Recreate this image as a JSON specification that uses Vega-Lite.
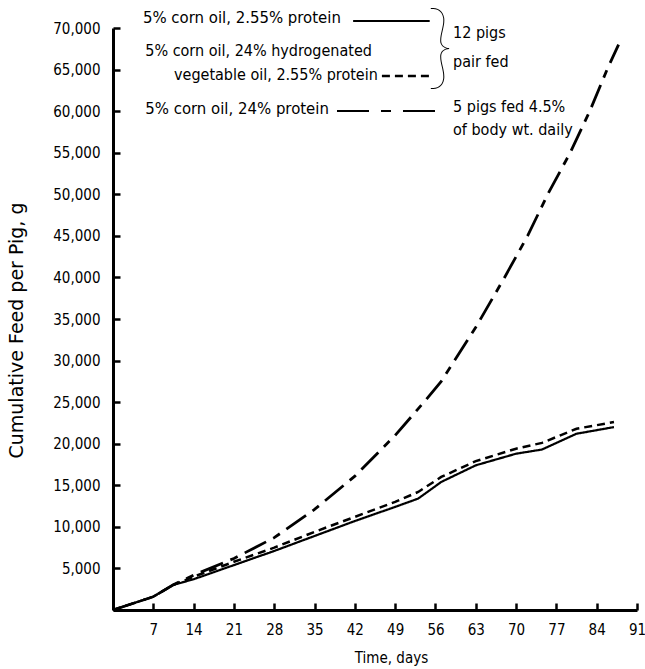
{
  "$schema": "https://vega.github.io/schema/vega-lite/v6.json",
  "width": 524,
  "height": 582,
  "autosize": {"type": "none"},
  "padding": {"left": 113, "top": 28, "right": 8, "bottom": 59},
  "background": "white",
  "config": {
    "view": {"stroke": null},
    "font": "DejaVu Sans Condensed",
    "text": {"font": "DejaVu Sans Condensed", "fontSize": 16, "color": "black"},
    "axis": {
      "labelFont": "DejaVu Sans Condensed",
      "titleFont": "DejaVu Sans Condensed",
      "labelColor": "black",
      "titleColor": "black",
      "titleFontWeight": "normal",
      "domainColor": "black",
      "tickColor": "black",
      "grid": false,
      "domainWidth": 3,
      "tickWidth": 2.5,
      "tickSize": -7,
      "labelFlush": false,
      "labelOverlap": false,
      "labelFontSize": 15,
      "titleFontSize": 15
    }
  },
  "datasets": {
    "curves": [
      {"series": "5% corn oil, 2.55% protein", "day": 0, "feed": 0},
      {"series": "5% corn oil, 2.55% protein", "day": 7, "feed": 1600},
      {"series": "5% corn oil, 2.55% protein", "day": 10.4, "feed": 3000},
      {"series": "5% corn oil, 2.55% protein", "day": 14, "feed": 3700},
      {"series": "5% corn oil, 2.55% protein", "day": 21, "feed": 5400},
      {"series": "5% corn oil, 2.55% protein", "day": 28, "feed": 7100},
      {"series": "5% corn oil, 2.55% protein", "day": 35, "feed": 8900},
      {"series": "5% corn oil, 2.55% protein", "day": 42, "feed": 10700},
      {"series": "5% corn oil, 2.55% protein", "day": 49, "feed": 12400},
      {"series": "5% corn oil, 2.55% protein", "day": 53, "feed": 13400},
      {"series": "5% corn oil, 2.55% protein", "day": 57, "feed": 15400},
      {"series": "5% corn oil, 2.55% protein", "day": 63, "feed": 17400},
      {"series": "5% corn oil, 2.55% protein", "day": 70, "feed": 18800},
      {"series": "5% corn oil, 2.55% protein", "day": 74.5, "feed": 19300},
      {"series": "5% corn oil, 2.55% protein", "day": 80.5, "feed": 21200},
      {"series": "5% corn oil, 2.55% protein", "day": 87, "feed": 22000},
      {"series": "5% corn oil, 24% hydrogenated vegetable oil, 2.55% protein", "day": 0, "feed": 0},
      {"series": "5% corn oil, 24% hydrogenated vegetable oil, 2.55% protein", "day": 7, "feed": 1600},
      {"series": "5% corn oil, 24% hydrogenated vegetable oil, 2.55% protein", "day": 10.4, "feed": 3000},
      {"series": "5% corn oil, 24% hydrogenated vegetable oil, 2.55% protein", "day": 14, "feed": 4000},
      {"series": "5% corn oil, 24% hydrogenated vegetable oil, 2.55% protein", "day": 21, "feed": 5800},
      {"series": "5% corn oil, 24% hydrogenated vegetable oil, 2.55% protein", "day": 28, "feed": 7500},
      {"series": "5% corn oil, 24% hydrogenated vegetable oil, 2.55% protein", "day": 35, "feed": 9400},
      {"series": "5% corn oil, 24% hydrogenated vegetable oil, 2.55% protein", "day": 42, "feed": 11200},
      {"series": "5% corn oil, 24% hydrogenated vegetable oil, 2.55% protein", "day": 49, "feed": 13000},
      {"series": "5% corn oil, 24% hydrogenated vegetable oil, 2.55% protein", "day": 53, "feed": 14200},
      {"series": "5% corn oil, 24% hydrogenated vegetable oil, 2.55% protein", "day": 57, "feed": 16000},
      {"series": "5% corn oil, 24% hydrogenated vegetable oil, 2.55% protein", "day": 63, "feed": 17900},
      {"series": "5% corn oil, 24% hydrogenated vegetable oil, 2.55% protein", "day": 70, "feed": 19400},
      {"series": "5% corn oil, 24% hydrogenated vegetable oil, 2.55% protein", "day": 74.5, "feed": 20100},
      {"series": "5% corn oil, 24% hydrogenated vegetable oil, 2.55% protein", "day": 80.5, "feed": 21800},
      {"series": "5% corn oil, 24% hydrogenated vegetable oil, 2.55% protein", "day": 87, "feed": 22600},
      {"series": "5% corn oil, 24% protein", "day": 0, "feed": 0},
      {"series": "5% corn oil, 24% protein", "day": 7, "feed": 1600},
      {"series": "5% corn oil, 24% protein", "day": 10.4, "feed": 3000},
      {"series": "5% corn oil, 24% protein", "day": 14, "feed": 4200},
      {"series": "5% corn oil, 24% protein", "day": 21, "feed": 6200},
      {"series": "5% corn oil, 24% protein", "day": 28, "feed": 8700},
      {"series": "5% corn oil, 24% protein", "day": 35, "feed": 12100},
      {"series": "5% corn oil, 24% protein", "day": 42, "feed": 16100},
      {"series": "5% corn oil, 24% protein", "day": 49, "feed": 21000},
      {"series": "5% corn oil, 24% protein", "day": 54, "feed": 25000},
      {"series": "5% corn oil, 24% protein", "day": 57, "feed": 27500},
      {"series": "5% corn oil, 24% protein", "day": 63, "feed": 34000},
      {"series": "5% corn oil, 24% protein", "day": 68, "feed": 40000},
      {"series": "5% corn oil, 24% protein", "day": 72, "feed": 45000},
      {"series": "5% corn oil, 24% protein", "day": 75.5, "feed": 50000},
      {"series": "5% corn oil, 24% protein", "day": 79.4, "feed": 55000},
      {"series": "5% corn oil, 24% protein", "day": 82.8, "feed": 60000},
      {"series": "5% corn oil, 24% protein", "day": 85.8, "feed": 65000},
      {"series": "5% corn oil, 24% protein", "day": 87.8, "feed": 68000}
    ]
  },
  "layer": [
    {
      "data": {"name": "curves"},
      "mark": {"type": "line", "color": "black", "strokeCap": "butt", "clip": false},
      "encoding": {
        "x": {
          "field": "day", "type": "quantitative",
          "scale": {"domain": [0, 91], "nice": false, "zero": true},
          "axis": {
            "values": [7, 14, 21, 28, 35, 42, 49, 56, 63, 70, 77, 84, 91],
            "title": "Time, days",
            "labelPadding": 19,
            "titlePadding": 13,
            "titleX": 278
          }
        },
        "y": {
          "field": "feed", "type": "quantitative",
          "scale": {"domain": [0, 70000], "nice": false},
          "axis": {
            "values": [5000, 10000, 15000, 20000, 25000, 30000, 35000, 40000, 45000, 50000, 55000, 60000, 65000, 70000],
            "format": ",.0f",
            "title": "Cumulative Feed per Pig, g",
            "labelPadding": 20,
            "titlePadding": 26,
            "titleY": 302,
            "titleFont": "DejaVu Sans",
            "titleFontSize": 19
          }
        },
        "strokeDash": {
          "field": "series", "type": "nominal",
          "scale": {
            "domain": ["5% corn oil, 2.55% protein", "5% corn oil, 24% hydrogenated vegetable oil, 2.55% protein", "5% corn oil, 24% protein"],
            "range": [[1, 0], [8, 5], [24, 8, 8, 8]]
          },
          "legend": null
        },
        "strokeWidth": {
          "field": "series", "type": "nominal",
          "scale": {
            "domain": ["5% corn oil, 2.55% protein", "5% corn oil, 24% hydrogenated vegetable oil, 2.55% protein", "5% corn oil, 24% protein"],
            "range": [2.2, 2.8, 2.4]
          },
          "legend": null
        }
      }
    },
    {
      "data": {"values": [{}]},
      "mark": {"type": "text", "align": "left", "baseline": "middle", "fontSize": 16.6},
      "encoding": {"x": {"datum": 5.2, "type": "quantitative"}, "y": {"datum": 71200, "type": "quantitative"}, "text": {"value": "5% corn oil, 2.55% protein"}}
    },
    {
      "data": {"values": [{}]},
      "mark": {"type": "text", "align": "left", "baseline": "middle"},
      "encoding": {"x": {"datum": 5.6, "type": "quantitative"}, "y": {"datum": 67240, "type": "quantitative"}, "text": {"value": "5% corn oil, 24% hydrogenated"}}
    },
    {
      "data": {"values": [{}]},
      "mark": {"type": "text", "align": "left", "baseline": "middle"},
      "encoding": {"x": {"datum": 10.6, "type": "quantitative"}, "y": {"datum": 64350, "type": "quantitative"}, "text": {"value": "vegetable oil, 2.55% protein"}}
    },
    {
      "data": {"values": [{}]},
      "mark": {"type": "text", "align": "left", "baseline": "middle", "fontSize": 16.6},
      "encoding": {"x": {"datum": 5.6, "type": "quantitative"}, "y": {"datum": 60260, "type": "quantitative"}, "text": {"value": "5% corn oil, 24% protein"}}
    },
    {
      "data": {"values": [{}]},
      "mark": {"type": "text", "align": "left", "baseline": "middle"},
      "encoding": {"x": {"datum": 59.05, "type": "quantitative"}, "y": {"datum": 69400, "type": "quantitative"}, "text": {"value": "12 pigs"}}
    },
    {
      "data": {"values": [{}]},
      "mark": {"type": "text", "align": "left", "baseline": "middle"},
      "encoding": {"x": {"datum": 59.05, "type": "quantitative"}, "y": {"datum": 65900, "type": "quantitative"}, "text": {"value": "pair fed"}}
    },
    {
      "data": {"values": [{}]},
      "mark": {"type": "text", "align": "left", "baseline": "middle"},
      "encoding": {"x": {"datum": 59.05, "type": "quantitative"}, "y": {"datum": 60500, "type": "quantitative"}, "text": {"value": "5 pigs fed 4.5%"}}
    },
    {
      "data": {"values": [{}]},
      "mark": {"type": "text", "align": "left", "baseline": "middle"},
      "encoding": {"x": {"datum": 59.05, "type": "quantitative"}, "y": {"datum": 57740, "type": "quantitative"}, "text": {"value": "of body wt. daily"}}
    },
    {
      "data": {"values": [{}]},
      "mark": {"type": "text", "align": "center", "baseline": "middle", "font": "Lato", "fontWeight": 100, "fontSize": 92},
      "encoding": {"x": {"datum": 56.8, "type": "quantitative"}, "y": {"datum": 67300, "type": "quantitative"}, "text": {"value": "}"}}
    },
    {
      "data": {"values": [{}]},
      "mark": {"type": "rule", "color": "black", "strokeWidth": 2},
      "encoding": {"x": {"datum": 41.7, "type": "quantitative"}, "x2": {"datum": 55.0}, "y": {"datum": 70850, "type": "quantitative"}}
    },
    {
      "data": {"values": [{}]},
      "mark": {"type": "rule", "color": "black", "strokeWidth": 2.5, "strokeDash": [8, 5], "strokeCap": "butt"},
      "encoding": {"x": {"datum": 46.7, "type": "quantitative"}, "x2": {"datum": 55.6}, "y": {"datum": 64230, "type": "quantitative"}}
    },
    {
      "data": {"values": [{}]},
      "mark": {"type": "rule", "color": "black", "strokeWidth": 2.2, "strokeDash": [32, 12, 10, 12], "strokeCap": "butt"},
      "encoding": {"x": {"datum": 38.9, "type": "quantitative"}, "x2": {"datum": 56.4}, "y": {"datum": 60020, "type": "quantitative"}}
    }
  ]
}
